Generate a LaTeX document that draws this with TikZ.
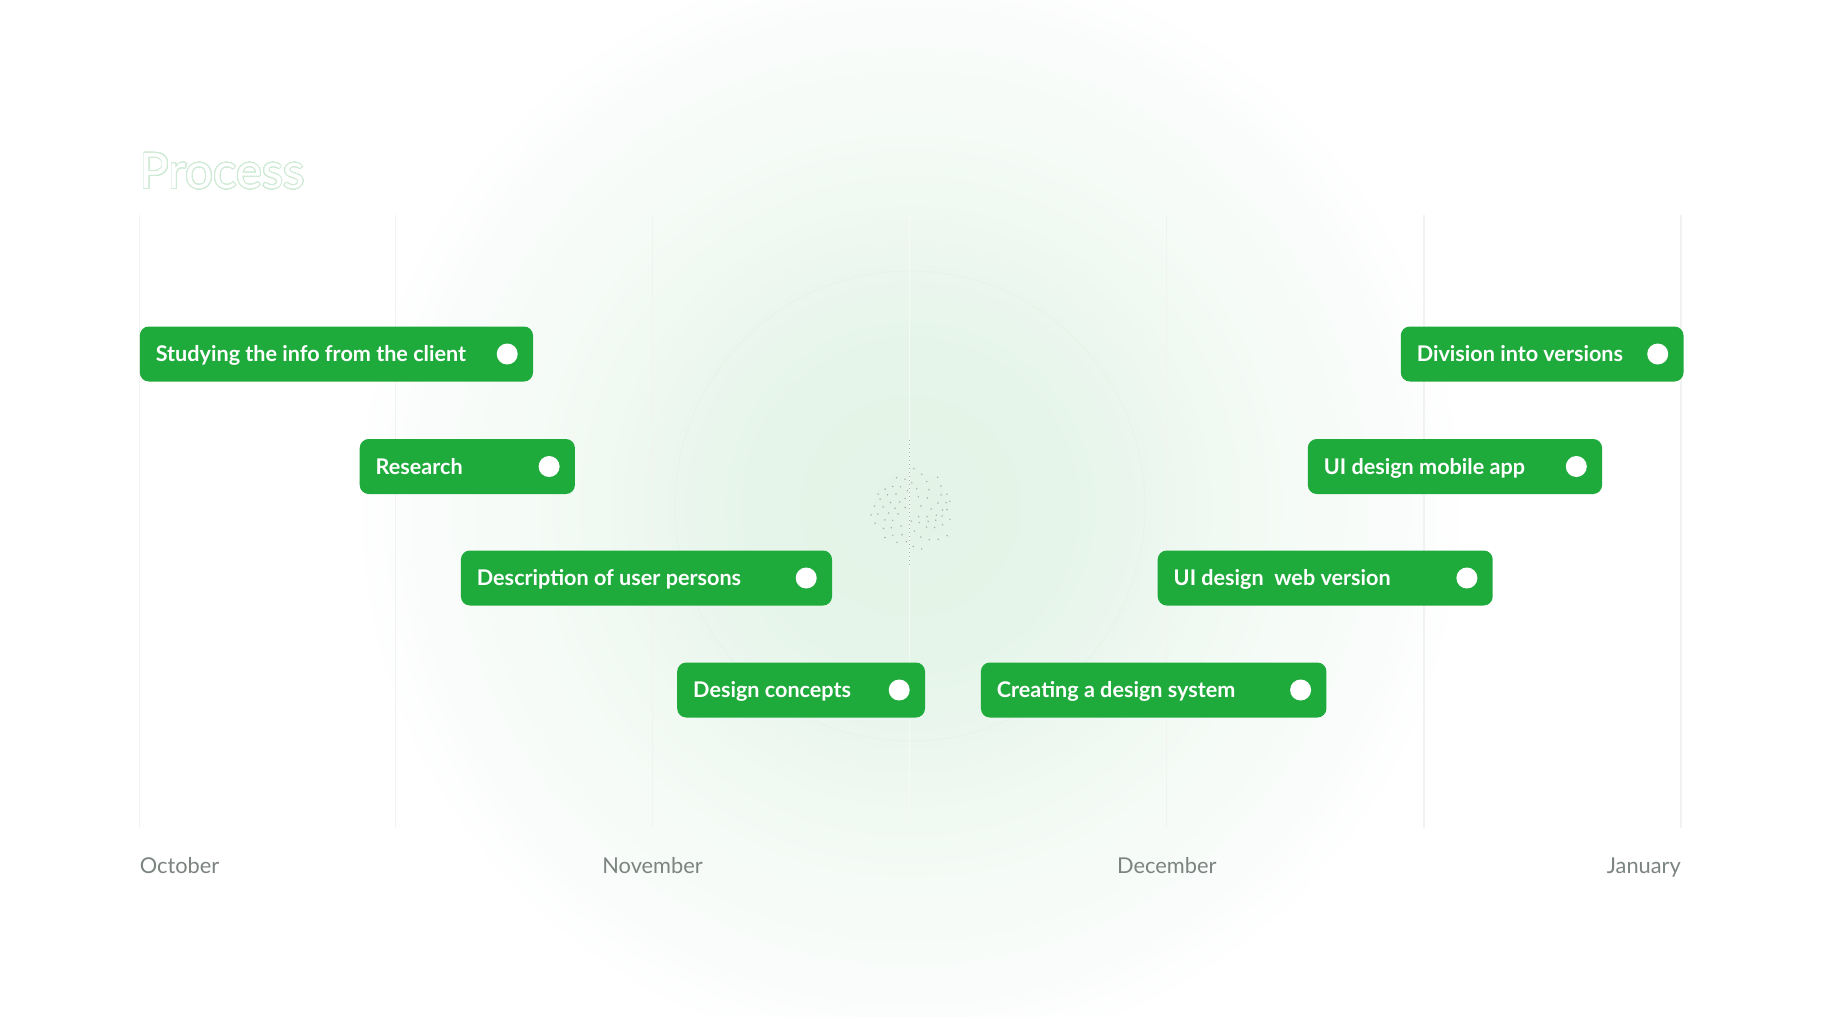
\documentclass[tikz,border=0pt]{standalone}
\usepackage{fontspec}
\setmainfont{Lato}
\usepackage[copies]{contour}
\definecolor{barg}{HTML}{1FAA3C}
\definecolor{gridc}{HTML}{F1F3F2}
\definecolor{gridw}{HTML}{F4FAF5}
\definecolor{monthc}{HTML}{7B847F}
\definecolor{procc}{HTML}{CFEBD6}
\definecolor{dotc}{HTML}{A9B3AD}
\definecolor{glow0}{HTML}{E3F4E7}
\definecolor{glow1}{HTML}{E5F5E9}
\definecolor{glow2}{HTML}{ECF7EF}
\definecolor{glow3}{HTML}{F5FBF6}
\definecolor{glow4}{HTML}{FAFCFB}
\definecolor{ringc}{HTML}{E0F0E4}
\pgfdeclareradialshading{glow}{\pgfpoint{0bp}{0bp}}{color(0bp)=(glow0); color(6.6bp)=(glow1); color(11.2bp)=(glow2); color(16.9bp)=(glow3); color(22bp)=(glow4); color(25bp)=(white); color(50bp)=(white)}
\tikzset{
  bar/.style={fill=barg, rounded corners=9pt, minimum height=55pt, inner sep=0pt, draw=none},
  bartext/.style={text=white, font=\fontsize{21.6}{26}\selectfont\bfseries, anchor=west, inner sep=0pt, text height=15pt, text depth=0pt},
  knob/.style={circle, fill=white, minimum size=21pt, inner sep=0pt},
  month/.style={text=monthc, font=\fontsize{21.8}{26}\selectfont, inner sep=0pt},
  gridline/.style={draw=gridc, line width=1.3pt}
}
\newcommand\mkbar[5]{%
  \node[bar, minimum width={#3-#2}, anchor=west] (#1) at (#2,#4) {};
  \node[bartext] (#1t) at ([xshift=16pt]#1.west) {#5};
  \node[knob] (#1k) at ([xshift=-26pt]#1.east) {};
}
\begin{document}
\begin{tikzpicture}[x=1pt,y=-1pt]
\fill[white] (0,0) rectangle (1824,1017);
\useasboundingbox (0,0) rectangle (1824,1017);
% background glow
\coordinate (cen) at (910,506);
\shade[shading=glow] (cen) circle (560);
\draw[ringc, line width=0.8pt, opacity=0.5] (cen) circle (235);
% gridlines
\foreach \x/\n in {139.6/a,395.5/b,652.6/c,1166.8/e,1423.9/f,1681/g}{
  \coordinate (\n top) at (\x,215);
  \coordinate (\n bot) at (\x,828);
  \draw[gridline] (\n top) -- (\n bot);
}
\coordinate (dtop) at (909.7,215);
\coordinate (dbot) at (909.7,828);
\draw[draw=gridw, line width=1.5pt] (dtop) -- (dbot);
% center dots
\coordinate (dl1) at (909.7,440);
\coordinate (dl2) at (909.7,568);
\draw[dotc, line width=1pt, dash pattern=on 1pt off 3pt] (dl1) -- (dl2);
\coordinate (dcen) at (913,510);
\foreach \i in {3,...,72}{
  \pgfmathsetmacro\rr{41*sqrt(\i/72)+2*sin(\i*57)}
  \pgfmathsetmacro\aa{\i*137.508+9*cos(\i*83)}
  \fill[dotc] ([shift={(\aa:\rr)}]dcen) circle (0.85pt);
}
% title
\contourlength{0.7pt}
\contournumber{40}
\node[anchor=base west, inner sep=0pt, font=\fontsize{49}{56}\selectfont] (title) at (139.6,188.5)
  {\contour{procc}{\textcolor{white}{Process}}};
% bars
\mkbar{s1}{139.6}{532.8}{354}{Studying the info from the client}
\mkbar{s2}{359.5}{574.7}{466.5}{Research}
\mkbar{s3}{460.7}{831.8}{578}{Description of user persons}
\mkbar{s4}{677.0}{924.8}{690}{Design concepts}
\mkbar{s5}{980.7}{1326.2}{690}{Creating a design system}
\mkbar{s6}{1157.5}{1492.5}{578}{UI design\ \ web version}
\mkbar{s7}{1307.6}{1601.9}{466.5}{UI design mobile app}
\mkbar{s8}{1400.6}{1683.3}{354}{Division into versions}
% months
\node[month, anchor=base west] (oct) at (139.6,873) {October};
\node[month, anchor=base] (nov) at (652.6,873) {November};
\node[month, anchor=base] (dec) at (1166.8,873) {December};
\node[month, anchor=base east] (jan) at (1681,873) {January};
\end{tikzpicture}
\end{document}
